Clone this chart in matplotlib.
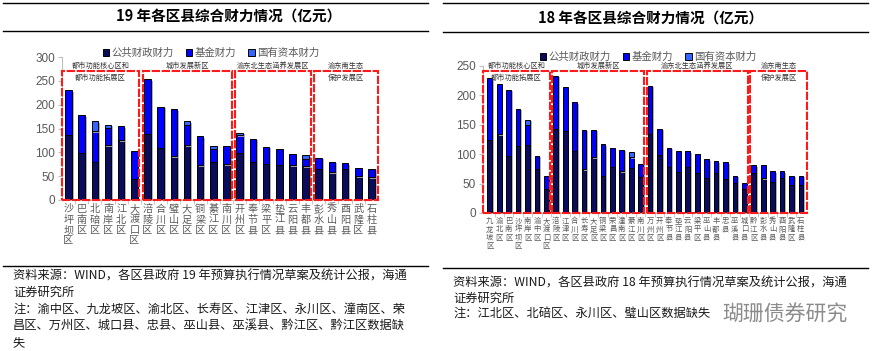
import numpy as np
import matplotlib
matplotlib.use("Agg")
import matplotlib.pyplot as plt
import matplotlib.patheffects as pe
from matplotlib.patches import Rectangle, Patch
from matplotlib.lines import Line2D

plt.rcParams['font.family'] = ['Noto Sans CJK SC', 'DejaVu Sans']

# ================================
# DATOS (亿元)
# ================================
# 2019
nombres_19 = ["沙坪坝区", "巴南区", "北碚区", "南岸区", "江北区", "大渡口区",
              "涪陵区", "合川区", "璧山区", "大足区", "铜梁区", "綦江区", "南川区",
              "开州区", "奉节县", "梁平区", "垫江县", "云阳县", "丰都县",
              "彭水县", "秀山县", "酉阳县", "武隆区", "石柱县"]
publico_19 = [137, 99, 80, 115, 125, 45,
              139, 109, 92, 115, 73, 80, 75,
              99, 80, 76, 74, 73, 71,
              65, 58, 65, 50, 48]
fondo_19 = [93, 79, 64, 36, 30, 57,
            114, 87, 98, 43, 61, 27, 38,
            37, 48, 35, 34, 24, 16,
            23, 22, 12, 17, 17]
estatal_19 = [0, 0, 21, 7, 0, 0,
              0, 0, 0, 7, 0, 7, 0,
              5, 0, 0, 0, 0, 7,
              0, 0, 0, 0, 0]
grupos_19 = [6, 7, 6, 5]

# 2018
nombres_18 = ["九龙坡区", "渝北区", "巴南区", "沙坪坝区", "南岸区", "渝中区", "大渡口区",
              "涪陵区", "江津区", "合川区", "长寿区", "大足区", "铜梁区", "荣昌区",
              "潼南区", "綦江区", "南川区",
              "万州区", "开州区", "奉节县", "垫江县", "云阳县", "梁平区", "巫山县",
              "丰都县", "忠县", "巫溪县", "城口县",
              "黔江区", "彭水县", "秀山县", "酉阳县", "武隆区", "石柱县"]
publico_18 = [125, 134, 97, 114, 116, 75, 41,
              143, 140, 106, 74, 95, 63, 79, 71, 77, 62,
              135, 99, 79, 70, 79, 68, 60, 68, 58, 51, 41,
              68, 59, 53, 60, 48, 48]
fondo_18 = [105, 85, 113, 63, 34, 22, 22,
            90, 74, 82, 68, 46, 54, 32, 36, 18, 22,
            81, 44, 32, 35, 26, 33, 31, 20, 28, 12, 10,
            13, 22, 18, 11, 15, 15]
estatal_18 = [0, 0, 0, 0, 8, 0, 0,
              0, 0, 0, 0, 0, 0, 0, 0, 8, 0,
              0, 0, 0, 0, 0, 0, 0, 0, 0, 0, 0,
              0, 0, 0, 0, 0, 0]
grupos_18 = [7, 10, 11, 6]

etiquetas_grupo = ["都市功能核心区和\n都市功能拓展区", "城市发展新区",
                   "渝东北生态涵养发展区", "渝东南生态\n保护发展区"]
series = ["公共财政财力", "基金财力", "国有资本财力"]
colores = ["#0B0B5E", "#0000FF", "#3366FF"]

W, H = 876, 351
gris = "#595959"


def fx(px):
    return px / W


def fy(py):
    return 1 - py / H


def grafico(ax, nombres, pub, fon, est, grupos, ymax, paso, caja_top,
            fs_x, fs_grupo):
    x = np.arange(len(nombres))
    sombra = [pe.SimplePatchShadow(offset=(1.3, -1.0), shadow_rgbFace="#a8a8a8",
                                   alpha=0.9), pe.Normal()]
    pub = np.array(pub); fon = np.array(fon); est = np.array(est)
    kw = dict(width=0.5, edgecolor="black", linewidth=0.7, zorder=3)
    b1 = ax.bar(x, pub, color=colores[0], **kw)
    b2 = ax.bar(x, fon, bottom=pub, color=colores[1], **kw)
    b3 = ax.bar(x, est, bottom=pub + fon, color=colores[2], **kw)
    for b in list(b1) + list(b2) + list(b3):
        if b.get_height() > 0:
            b.set_path_effects(sombra)
        else:
            b.set_visible(False)

    ax.set_ylim(0, ymax)
    ax.set_yticks(np.arange(0, ymax + 1, paso))
    ax.tick_params(axis="y", colors="#bfbfbf", labelcolor=gris, length=3,
                   width=0.8, labelsize=8.5, pad=2)
    for t in ax.get_yticklabels():
        t.set_fontfamily("Liberation Sans")
    ax.set_xticks(x)
    ax.set_xticklabels(["\n".join(n) for n in nombres], fontsize=fs_x,
                       color=gris, linespacing=1.05, va="top")
    ax.set_xticks(x[:-1] + 0.5, minor=True)
    ax.tick_params(axis="x", which="major", length=0, pad=3)
    ax.tick_params(axis="x", which="minor", length=3, color="#bfbfbf")
    for s in ["top", "right"]:
        ax.spines[s].set_visible(False)
    ax.spines["left"].set_color("#bfbfbf")
    ax.spines["bottom"].set_color("#bfbfbf")

    # cajas de grupos
    xl0, xl1 = ax.get_xlim()
    ini = 0
    for k, n in enumerate(grupos):
        fin = ini + n - 1
        x0 = xl0 if k == 0 else ini - 0.36
        x1 = xl1 if k == len(grupos) - 1 else fin + 0.38
        ax.add_patch(Rectangle((x0, 0), x1 - x0, caja_top, fill=False,
                               edgecolor="#ff1a1a", linewidth=1.5,
                               linestyle=(0, (4, 0.8)), zorder=5, clip_on=False))
        ax.text((x0 + x1) / 2, caja_top + ymax * 0.063, etiquetas_grupo[k],
                ha="center", va="top", fontsize=fs_grupo, color="#333333",
                linespacing=1.6, zorder=6, clip_on=False)
        ini = fin + 1


fig = plt.figure(figsize=(W / 100, H / 100), dpi=100)

# ---- 2019 ----
ax1 = fig.add_axes([fx(62), fy(200), fx(378 - 62), (200 - 57) / H])
ax1.set_xlim(-0.49, len(nombres_19) - 0.5)
grafico(ax1, nombres_19, publico_19, fondo_19, estatal_19, grupos_19,
        300, 50, 270, 7.3, 5.2)

# ---- 2018 ----
ax2 = fig.add_axes([fx(483), fy(213), fx(807 - 483), (213 - 66) / H])
ax2.set_xlim(-0.72, len(nombres_18) - 0.35)
grafico(ax2, nombres_18, publico_18, fondo_18, estatal_18, grupos_18,
        250, 50, 241, 5.3, 5.2)

# leyendas
handles = [Patch(facecolor=c, edgecolor="black", linewidth=0.7) for c in colores]
for cx, cy in [(211, 53), (648, 57)]:
    fig.legend(handles, series, loc="center", bbox_to_anchor=(fx(cx), fy(cy)),
               ncol=3, frameon=False, fontsize=7.5, handlelength=0.6,
               handleheight=0.7, handletextpad=0.2, columnspacing=1.2,
               labelcolor=gris, borderaxespad=0, borderpad=0)

# titulos y lineas
for x0, x1, ys, cx, ty, txt in [
        (3, 428, (2.5, 30.5, 266), 229, 17, "19 年各区县综合财力情况（亿元）"),
        (443, 868, (3.3, 31.7, 268), 651, 19, "18 年各区县综合财力情况（亿元）")]:
    for y in ys:
        fig.add_artist(Line2D([fx(x0), fx(x1)], [fy(y), fy(y)], color="black",
                              linewidth=1.0))
    fig.text(fx(cx), fy(ty), txt, ha="center", va="center", fontsize=10.5,
             fontweight="bold")

# fuentes / notas
nota_19 = ["资料来源：WIND，各区县政府 19 年预算执行情况草案及统计公报，海通",
           "证券研究所",
           "注：渝中区、九龙坡区、渝北区、长寿区、江津区、永川区、潼南区、荣",
           "昌区、万州区、城口县、忠县、巫山县、巫溪县、黔江区、黔江区数据缺",
           "失"]
nota_18 = ["资料来源：WIND，各区县政府 18 年预算执行情况草案及统计公报，海通",
           "证券研究所",
           "注：江北区、北碚区、永川区、璧山区数据缺失"]
for i, l in enumerate(nota_19):
    fig.text(fx(13), fy(276 + i * 16.6), l, ha="left", va="center",
             fontsize=8.8, color="#1a1a1a")
for i, l in enumerate(nota_18):
    fig.text(fx(453), fy(283 + i * 15.6), l, ha="left", va="center",
             fontsize=8.8, color="#1a1a1a")

fig.text(fx(722), fy(315), "瑚珊债券研究", ha="left", va="center",
         fontsize=15, color="#7f7f7f", alpha=0.9)

fig.savefig("out.png", dpi=100)
